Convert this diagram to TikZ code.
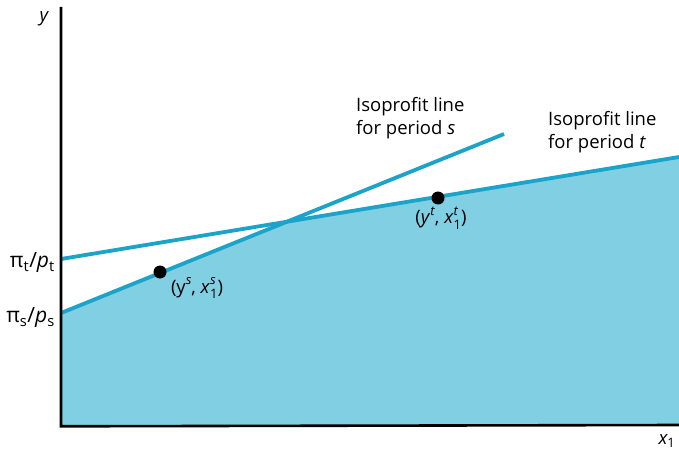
\documentclass[tikz,border=0pt]{standalone}
\usepackage{fontspec}
\setmainfont{Open Sans}
\usetikzlibrary{positioning,calc}
\definecolor{isoline}{HTML}{1CA3CA}
\definecolor{regionfill}{HTML}{80CFE3}
\newcommand{\scrfont}{\fontsize{13}{13}\selectfont}
\newcommand{\supr}[1]{\raisebox{0.48em}{\scrfont\textit{#1}}}
\newcommand{\supsub}[2]{\rlap{\raisebox{0.48em}{\scrfont\textit{#1}}}\raisebox{-0.3em}{\scrfont #2}}
\tikzset{
  % --- axes and isoprofit lines ---
  axis/.style={line width=2.6pt, draw=black},
  isoprofit/.style={line width=3.8pt, draw=isoline},
  region/.style={fill=regionfill, draw=none},
  % --- production points ---
  prodpt/.style={circle, fill=black, minimum size=13pt, inner sep=0pt},
  lbl/.style={font=\fontsize{18.5}{23}\selectfont, inner sep=1pt},
  notelbl/.style={lbl, align=left, anchor=north west},
  interlbl/.style={lbl, anchor=east, font=\fontsize{21}{25}\selectfont},
}
\begin{document}
\begin{tikzpicture}[x=1pt,y=-1pt]
  \useasboundingbox (0,0) rectangle (679,454);
  % --- corner and end points ---
  \coordinate (o)  at (61,425);
  \coordinate (ytop) at (61,7);
  \coordinate (xend) at (679,425);
  \coordinate (s0) at (61,313);
  \coordinate (s1) at (504,134);
  \coordinate (t0) at (61,259);
  \coordinate (t1) at (679,157);
  \coordinate (cross) at (intersection of s0--s1 and t0--t1);

  % --- feasible region under both lines ---
  \fill[region] (o) -- (s0) -- (cross) -- (t1) -- (xend) -- cycle;

  % --- isoprofit lines ---
  \draw[isoprofit] (s0) -- (s1);
  \draw[isoprofit] (t0) -- (t1);

  % --- axes ---
  \draw[axis] (ytop) -- ([yshift=-1.3pt]o) -- (xend |- o);
  \node[lbl, font=\fontsize{18.5}{23}\selectfont\itshape] (ylab) at (44,19) {y};
  \node[lbl, font=\fontsize{18.5}{23}\selectfont\itshape] (xlab) at (667,441) {x\textsubscript{\upshape 1}};

  % --- intercepts ---
  \node[interlbl] (pit) at (56,263) {π\textsubscript{t}/\textit{p}\textsubscript{t}};
  \node[interlbl] (pis) at (56,318) {π\textsubscript{s}/\textit{p}\textsubscript{s}};

  % --- chosen points ---
  \node[prodpt] (ps) at (160,272) {};
  \node[prodpt] (pt) at (438,198) {};
  \node[lbl] (pslab) at (197,288) {(y\supr{s}, \textit{x}\supsub{s}{1})};
  \node[lbl] (ptlab) at (441,218) {(\textit{y}\supr{t}, \textit{x}\supsub{t}{1})};

  % --- line notes ---
  \node[notelbl] (notes) at (355,96) {Isoprofit line\\for period \textit{s}};
  \node[notelbl] (notet) at (547,110) {Isoprofit line\\for period \textit{t}};
\end{tikzpicture}
\end{document}
